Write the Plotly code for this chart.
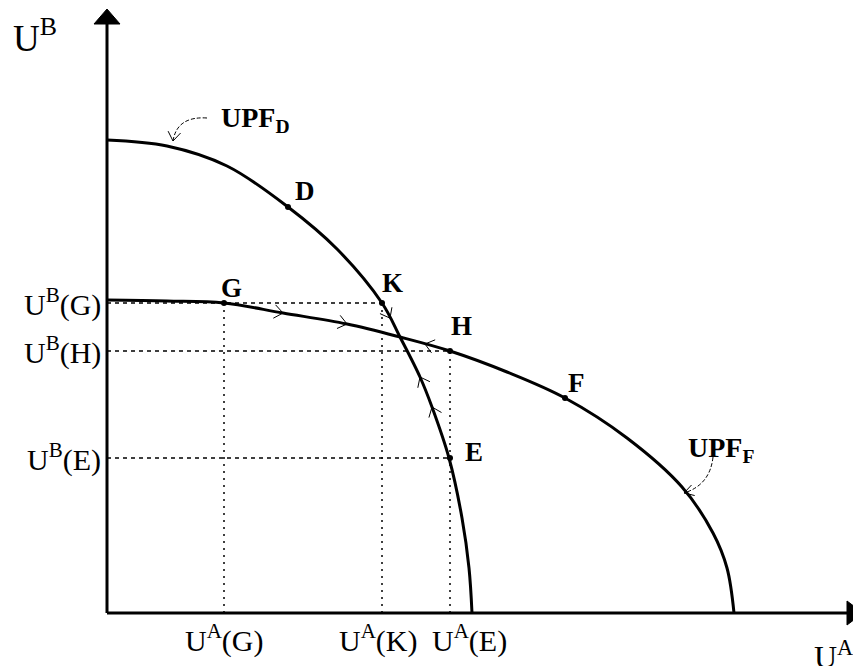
import numpy as np
import plotly.graph_objects as go

# ---- data (origin at the axes' corner) ----
upf_d_x = [0, 60, 120, 181, 230, 275, 293, 313, 325, 342, 355, 362, 365]
upf_d_y = [473, 467, 447, 406, 364, 310, 276, 236, 206, 155, 95, 45, 0]

upf_f_x = [0, 60, 117, 176, 240, 293, 343, 400, 458, 520, 575, 606, 620, 627]
upf_f_y = [313, 312, 310, 300, 289, 276, 262, 241, 215, 175, 126, 80, 45, 0]

point_names = ["D", "G", "K", "H", "F", "E"]
point_x = [181, 117, 275, 343, 458, 343]
point_y = [406, 310, 310, 262, 215, 155]

ytick_vals = [310, 262, 155]
ytick_text = ["U<sup>B</sup>(G)", "U<sup>B</sup>(H)", "U<sup>B</sup>(E)"]
xtick_vals = [117, 275, 343]
xtick_text = ["U<sup>A</sup>(G)", "U<sup>A</sup>(K)", "U<sup>A</sup>(E)"]

# movement arrows along the frontiers: (curve, x position, direction along x)
move_curve = ["F", "F", "D", "F", "D", "D"]
move_x = [176, 240, 283, 318, 313, 325]
move_dir = [1, 1, 1, -1, -1, -1]

FONT = "Liberation Serif"
BLACK = "black"

fig = go.Figure()

fig.add_trace(go.Scatter(x=upf_d_x, y=upf_d_y, mode="lines",
                         line=dict(color=BLACK, width=3, shape="spline", smoothing=1.0),
                         hoverinfo="skip", showlegend=False))
fig.add_trace(go.Scatter(x=upf_f_x, y=upf_f_y, mode="lines",
                         line=dict(color=BLACK, width=3, shape="spline", smoothing=1.0),
                         hoverinfo="skip", showlegend=False))

shapes = []
pts = dict(zip(point_names, zip(point_x, point_y)))

# guide lines
def hguide(y, x1):
    shapes.append(dict(type="line", xref="x", yref="y", x0=0, y0=y, x1=x1, y1=y,
                       line=dict(color=BLACK, width=1.3, dash="4px,4px")))

def vguide(x, y1):
    shapes.append(dict(type="line", xref="x", yref="y", x0=x, y0=0, x1=x, y1=y1,
                       line=dict(color=BLACK, width=1.5, dash="2px,5px")))

hguide(pts["G"][1], pts["K"][0])
hguide(pts["H"][1], pts["H"][0])
hguide(pts["E"][1], pts["E"][0])
vguide(pts["G"][0], pts["G"][1])
vguide(pts["K"][0], pts["K"][1])
vguide(pts["H"][0], pts["H"][1])

# axes with arrow heads
shapes.append(dict(type="line", xref="x", yref="y", x0=0, y0=0, x1=0, y1=592,
                   line=dict(color=BLACK, width=3)))
shapes.append(dict(type="path", xref="x", yref="y", path="M -13 589 L 0 604 L 13 589 Z",
                   fillcolor=BLACK, line=dict(color=BLACK, width=1)))
shapes.append(dict(type="line", xref="x", yref="y", x0=0, y0=0, x1=742, y1=0,
                   line=dict(color=BLACK, width=3)))
shapes.append(dict(type="path", xref="x", yref="y", path="M 740 12 L 756 0 L 740 -12 Z",
                   fillcolor=BLACK, line=dict(color=BLACK, width=1)))

def chevron(tx, ty, ux, uy, arm=11, spread=38):
    # ux, uy: unit direction (data coords, 1 unit = 1 px)
    ang = np.arctan2(uy, ux)
    pts_ = []
    for s in (-1, 1):
        a = ang + np.pi + s * np.radians(spread)
        pts_.append((tx + arm * np.cos(a), ty + arm * np.sin(a)))
    path = "M {:.2f} {:.2f} L {:.2f} {:.2f} L {:.2f} {:.2f}".format(
        pts_[0][0], pts_[0][1], tx, ty, pts_[1][0], pts_[1][1])
    shapes.append(dict(type="path", xref="x", yref="y", path=path,
                       line=dict(color=BLACK, width=1)))

curves = {"D": (np.array(upf_d_x, float), np.array(upf_d_y, float)),
          "F": (np.array(upf_f_x, float), np.array(upf_f_y, float))}
for c, mx, d in zip(move_curve, move_x, move_dir):
    cx, cy = curves[c]
    my = np.interp(mx, cx, cy)
    y2 = np.interp(mx + d * 4, cx, cy)
    ux, uy = d * 4, y2 - my
    n = np.hypot(ux, uy)
    chevron(mx, my, ux / n, uy / n)

# curved label pointers
shapes.append(dict(type="path", xref="x", yref="y", path="M 100 495 Q 70 497 66 472",
                   line=dict(color=BLACK, width=1, dash="4px,2px")))
chevron(66, 472, -0.15, -1, arm=11, spread=35)
shapes.append(dict(type="path", xref="x", yref="y", path="M 606 156 Q 603 128 577 120",
                   line=dict(color=BLACK, width=1, dash="4px,2px")))
chevron(577, 120, -1, -0.3, arm=11, spread=30)

fig.add_trace(go.Scatter(x=point_x, y=point_y, mode="markers",
                         marker=dict(color=BLACK, size=6), hoverinfo="skip", showlegend=False))

ann = []
label_shift = {"D": (17, 16), "G": (7, 15), "K": (10, 20), "H": (11, 25), "F": (11, 15), "E": (24, 6)}
for n, x, y in zip(point_names, point_x, point_y):
    dx, dy = label_shift[n]
    ann.append(dict(x=x, y=y, xref="x", yref="y", text="<b>" + n + "</b>", showarrow=False,
                    xshift=dx, yshift=dy, font=dict(family=FONT, size=27, color=BLACK)))

for v, t in zip(ytick_vals, ytick_text):
    ann.append(dict(x=-4, y=v, xref="x", yref="y", text=t, showarrow=False,
                    xanchor="right", yanchor="middle", yshift=1,
                    font=dict(family=FONT, size=30, color=BLACK)))

xshifts = [0, -4, 19]
for v, t, s in zip(xtick_vals, xtick_text, xshifts):
    ann.append(dict(x=v, y=-25, xref="x", yref="y", text=t, showarrow=False,
                    xanchor="center", yanchor="middle", xshift=s,
                    font=dict(family=FONT, size=30, color=BLACK)))

ann.append(dict(x=-96, y=578, xref="x", yref="y", text="U<sup>B</sup>", showarrow=False,
                xanchor="left", yanchor="middle", font=dict(family=FONT, size=37, color=BLACK)))
ann.append(dict(x=705, y=-42, xref="x", yref="y", text="U<sup>A</sup>", showarrow=False,
                xanchor="left", yanchor="middle", font=dict(family=FONT, size=32, color=BLACK)))
ann.append(dict(x=112, y=494, xref="x", yref="y", text="<b>UPF<sub>D</sub></b>", showarrow=False,
                xanchor="left", yanchor="middle", font=dict(family=FONT, size=28, color=BLACK)))
ann.append(dict(x=579, y=164, xref="x", yref="y", text="<b>UPF<sub>F</sub></b>", showarrow=False,
                xanchor="left", yanchor="middle", font=dict(family=FONT, size=28, color=BLACK)))

# the page body has an 8px margin: the figure is sized and ranged to compensate
fig.update_layout(
    width=853, height=658,
    margin=dict(l=0, r=0, t=0, b=0, pad=0),
    paper_bgcolor="white", plot_bgcolor="white",
    xaxis=dict(range=[-99, 754], visible=False, fixedrange=True),
    yaxis=dict(range=[-53, 605], visible=False, fixedrange=True),
    shapes=shapes, annotations=ann, showlegend=False,
)

fig.write_html("out.html")
